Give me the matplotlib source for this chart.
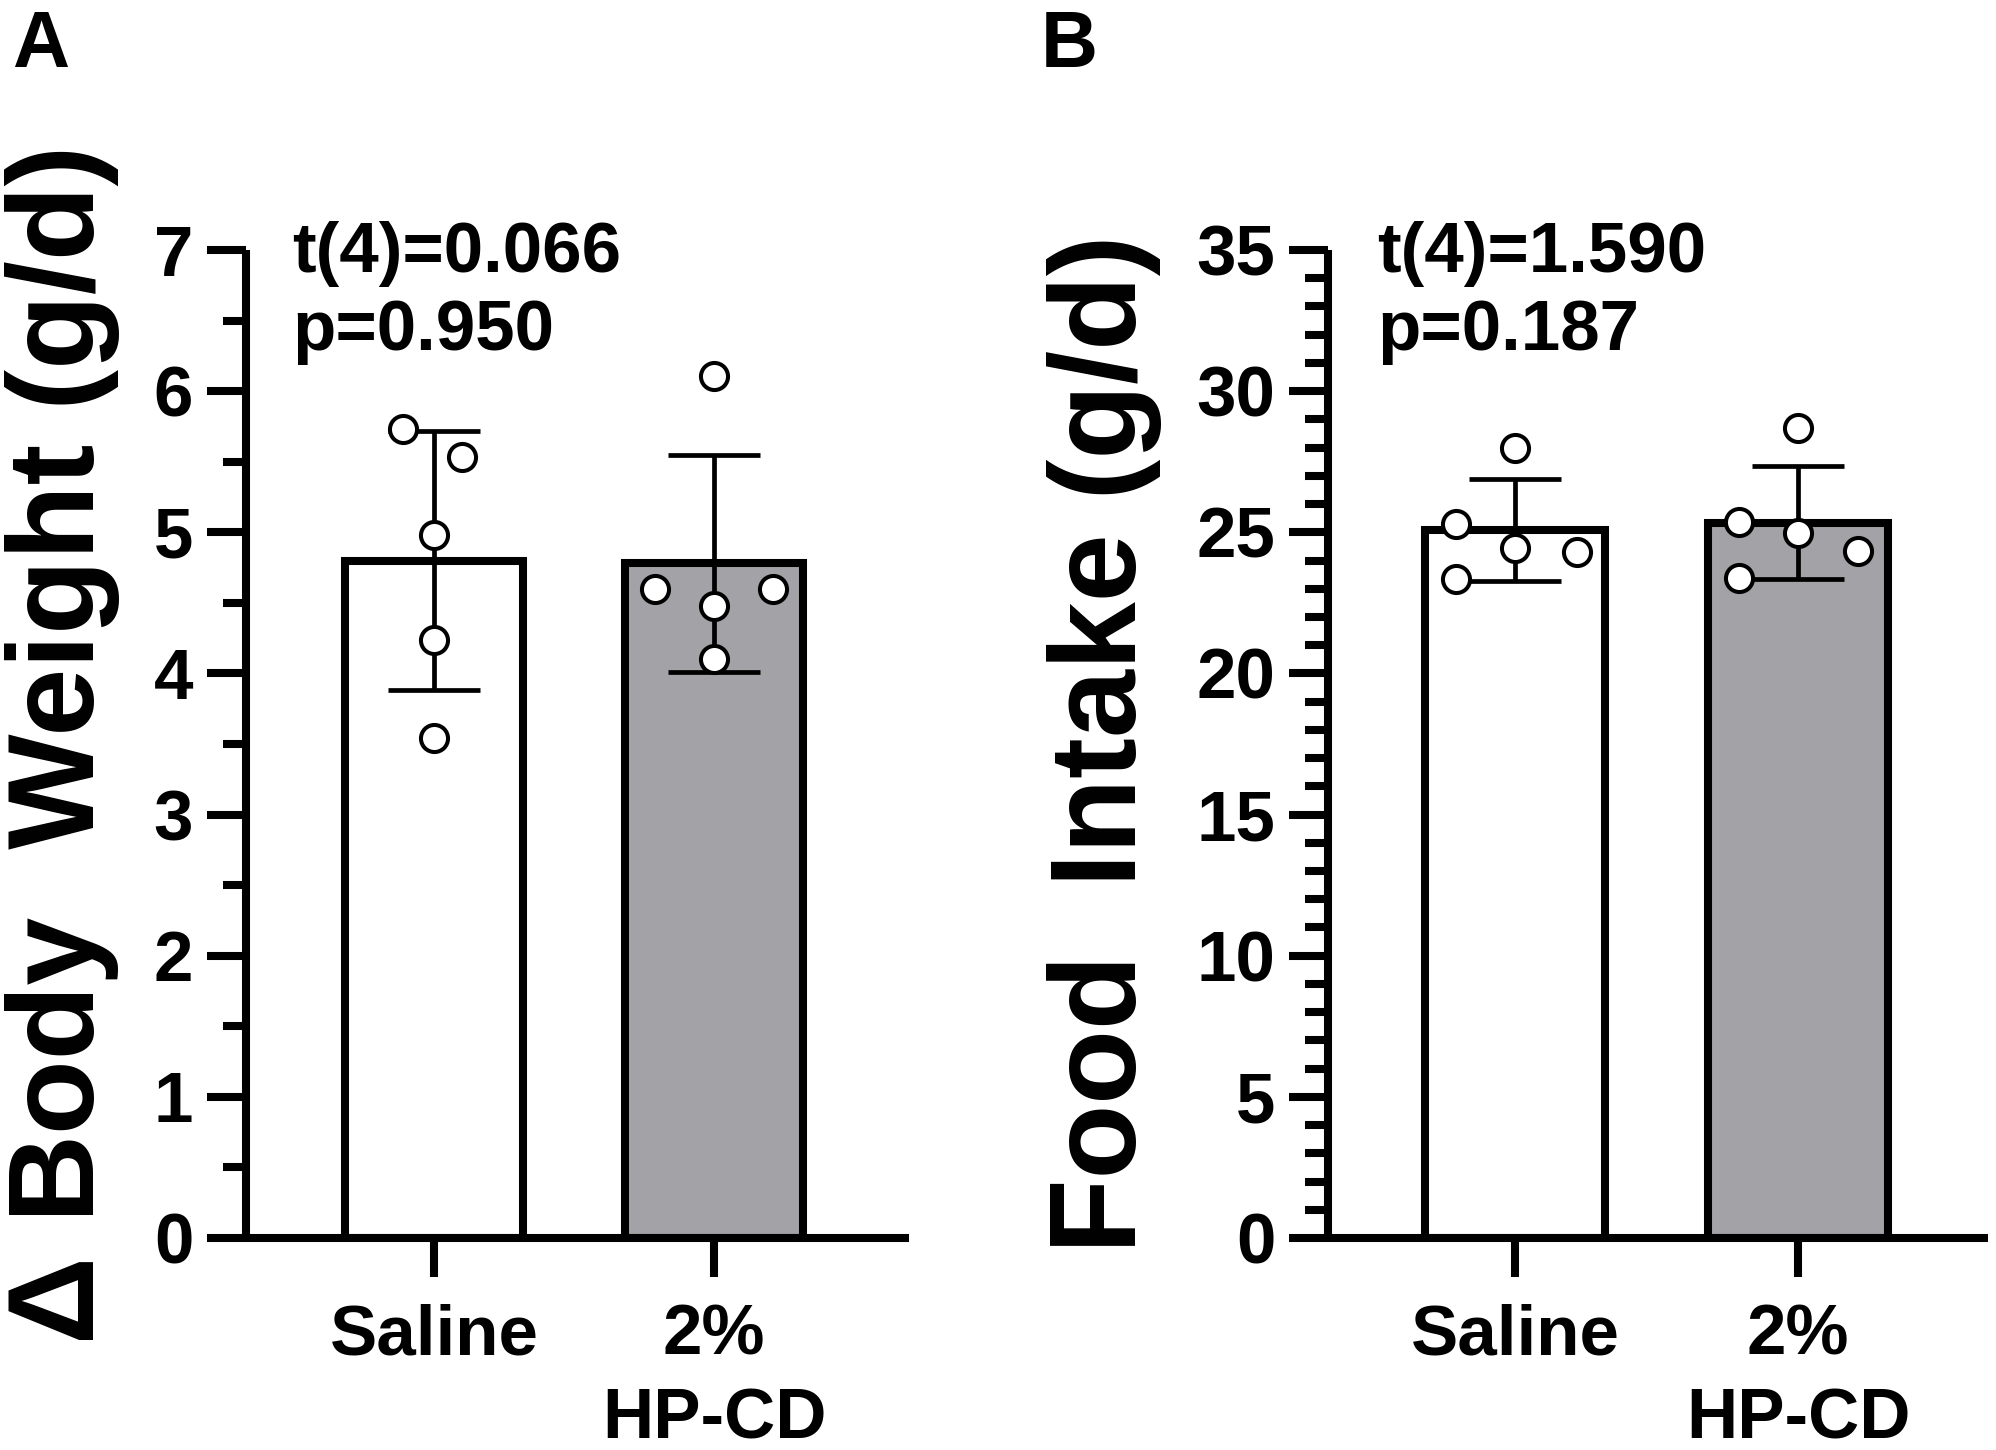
import numpy as np
import matplotlib.pyplot as plt
from matplotlib.ticker import MultipleLocator

plt.rcParams["font.family"] = ["Liberation Sans", "DejaVu Sans"]
plt.rcParams["font.weight"] = "bold"

# --- data ---
groups = ["Saline", "2%\nHP-CD"]
bar_fill = ["white", "#a3a3a7"]

# panel A: body weight change (g/d)
bw_mean = [4.80, 4.78]
bw_sd = [0.92, 0.77]
bw_saline = [5.73, 5.53, 4.98, 4.24, 3.54]
bw_hpcd = [6.11, 4.60, 4.48, 4.60, 4.10]
bw_jit_saline = [-0.11, 0.10, 0.0, 0.0, 0.0]
bw_jit_hpcd = [0.0, -0.21, 0.0, 0.21, 0.0]
bw_stats = ["t(4)=0.066", "p=0.950"]

# panel B: food intake (g/d)
fi_mean = [25.08, 25.34]
fi_sd = [1.82, 2.00]
fi_saline = [28.0, 25.3, 24.45, 24.3, 23.35]
fi_hpcd = [28.7, 25.35, 24.97, 24.32, 23.37]
fi_jit_saline = [0.0, -0.21, 0.0, 0.22, -0.21]
fi_jit_hpcd = [0.0, -0.21, 0.0, 0.21, -0.21]
fi_stats = ["t(4)=1.590", "p=0.187"]

W, H = 1996, 1450
fig = plt.figure(figsize=(W / 100, H / 100), dpi=100)

LW = 5.8
y0, y1 = 1238, 250   # pixel rows of axis bottom/top


def make_axes(left_px, right_px):
    return fig.add_axes([left_px / W, 1 - y0 / H, (right_px - left_px) / W, (y0 - y1) / H])


def panel(ax, means, sds, pts, jits, xlim, ylim, major, minor, stats, stats_x):
    x = np.arange(len(groups))
    bars = ax.bar(x, means, width=0.636, color=bar_fill, edgecolor="k", linewidth=LW, zorder=1)
    for b in bars:
        b.set_joinstyle("miter")
    ax.errorbar(x, means, yerr=sds, fmt="none", ecolor="k", elinewidth=3.4,
                capsize=33, capthick=3.4, zorder=3)
    for xi, vals, jit in zip(x, pts, jits):
        ax.plot(xi + np.array(jit), vals, "o", ms=19.5, mfc="white", mec="k",
                mew=2.9, zorder=4, clip_on=False)
    ax.set_xlim(*xlim)
    ax.set_ylim(*ylim)
    ax.yaxis.set_major_locator(MultipleLocator(major))
    ax.yaxis.set_minor_locator(MultipleLocator(minor))
    ax.set_xticks(x)
    ax.set_xticklabels(groups)
    for s in ["top", "right"]:
        ax.spines[s].set_visible(False)
    for s in ["left", "bottom"]:
        ax.spines[s].set_linewidth(LW)
        ax.spines[s].set_capstyle("butt")
        ax.spines[s].set_zorder(5)
    ax.tick_params(axis="y", which="major", length=28, width=LW, labelsize=51, pad=10)
    ax.tick_params(axis="y", which="minor", length=16.5, width=LW)
    ax.tick_params(axis="x", which="major", length=28, width=LW, labelsize=51, pad=19)
    for lab in ax.get_xticklabels() + ax.get_yticklabels():
        lab.set_fontweight("bold")
    for lab in ax.get_xticklabels():
        lab.set_linespacing(1.36)
    ax.text(stats_x, 0.978, stats[0], transform=ax.transAxes, fontsize=51,
            fontweight="bold", va="baseline", ha="left")
    ax.text(stats_x, 0.899, stats[1], transform=ax.transAxes, fontsize=51,
            fontweight="bold", va="baseline", ha="left")


axA = make_axes(246, 909)
panel(axA, bw_mean, bw_sd, [bw_saline, bw_hpcd], [bw_jit_saline, bw_jit_hpcd],
      (-0.671, 1.696), (0, 7), 1, 0.5, bw_stats, 0.0695)

axB = make_axes(1328, 1988)
panel(axB, fi_mean, fi_sd, [fi_saline, fi_hpcd], [fi_jit_saline, fi_jit_hpcd],
      (-0.661, 1.671), (0, 35), 5, 1, fi_stats, 0.074)

ymid = 1 - (y0 + y1) / 2 / H
fig.text(63 / W, ymid, "\u0394 Body  Weight (g/d)", rotation=90, ha="center", va="center",
         fontsize=88, fontweight="bold")
fig.text(1104 / W, ymid, "Food  Intake (g/d)", rotation=90, ha="center", va="center",
         fontsize=88, fontweight="bold")

fig.text(12 / W, 1 - 67 / H, "A", fontsize=57, fontweight="bold", ha="left", va="baseline")
fig.text(1041 / W, 1 - 67 / H, "B", fontsize=57, fontweight="bold", ha="left", va="baseline")

fig.savefig("out.png", dpi=100)
